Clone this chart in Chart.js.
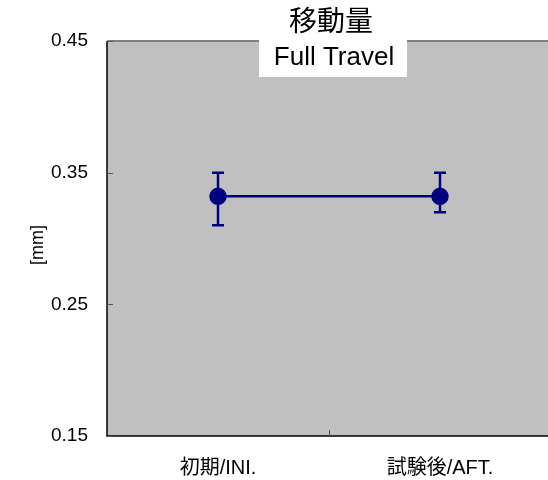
<!DOCTYPE html>
<html>
<head>
<meta charset="utf-8">
<script src="https://cdn.jsdelivr.net/npm/chart.js@4"></script>
<style>
  html, body { margin: 0; padding: 0; background: #fff; overflow: hidden; }
  #wrap { width: 561px; height: 480px; }
</style>
</head>
<body>
<div id="wrap"><canvas id="chart"></canvas></div>
<script>
// Data
const categories = ['初期/INI.', '試験後/AFT.'];
const meanValues = [0.332, 0.332];
const upperValues = [0.35, 0.35];
const lowerValues = [0.31, 0.32];
const yTicks = [0.15, 0.25, 0.35, 0.45];

const FONT = '"Liberation Sans", "Noto Sans CJK JP", sans-serif';
const NAVY = '#000080';

// plot background, borders, inward ticks, error bars, titles
const decorPlugin = {
  id: 'decor',
  beforeDraw(chart) {
    const { ctx, chartArea: a } = chart;
    ctx.save();
    ctx.fillStyle = '#c0c0c0';
    ctx.fillRect(a.left, a.top, a.right - a.left, a.bottom - a.top);
    ctx.restore();
  },
  afterDatasetsDraw(chart) {
    const { ctx, scales } = chart;
    const y = scales.y, x = scales.x;
    // error bars
    ctx.save();
    ctx.strokeStyle = NAVY;
    ctx.lineWidth = 2.5;
    categories.forEach((c, i) => {
      const px = x.getPixelForValue(i);
      const yt = y.getPixelForValue(upperValues[i]);
      const yb = y.getPixelForValue(lowerValues[i]);
      ctx.beginPath();
      ctx.moveTo(px, yt); ctx.lineTo(px, yb);
      ctx.moveTo(px - 6, yt); ctx.lineTo(px + 6, yt);
      ctx.moveTo(px - 6, yb); ctx.lineTo(px + 6, yb);
      ctx.stroke();
    });
    ctx.restore();
  },
  afterDraw(chart) {
    const { ctx, chartArea: a, scales } = chart;
    const y = scales.y, x = scales.x;
    ctx.save();
    // top border (gray)
    ctx.strokeStyle = '#808080';
    ctx.lineWidth = 2;
    ctx.beginPath();
    ctx.moveTo(a.left, a.top);
    ctx.lineTo(a.right, a.top);
    ctx.stroke();
    // left & bottom border
    ctx.strokeStyle = '#000';
    ctx.lineWidth = 1.5;
    ctx.beginPath();
    ctx.moveTo(a.left, a.top);
    ctx.lineTo(a.left, a.bottom);
    ctx.lineTo(a.right, a.bottom);
    ctx.stroke();
    // inward y ticks
    ctx.strokeStyle = '#555';
    ctx.lineWidth = 1;
    yTicks.forEach(v => {
      const py = Math.round(y.getPixelForValue(v)) + 0.5;
      ctx.beginPath();
      ctx.moveTo(a.left, py);
      ctx.lineTo(a.left + 6, py);
      ctx.stroke();
    });
    // inward x tick between categories
    const mx = Math.round((x.getPixelForValue(0) + x.getPixelForValue(1)) / 2) + 0.5;
    ctx.beginPath();
    ctx.moveTo(mx, a.bottom);
    ctx.lineTo(mx, a.bottom - 6);
    ctx.stroke();

    ctx.fillStyle = '#000';
    ctx.textAlign = 'center';
    ctx.textBaseline = 'middle';
    // y axis title
    ctx.save();
    ctx.translate(38, 245);
    ctx.rotate(-Math.PI / 2);
    ctx.font = '18px ' + FONT;
    ctx.fillText('[mm]', 0, 0);
    ctx.restore();

    // title
    ctx.font = '28px "Noto Sans CJK JP", sans-serif';
    ctx.fillText('移動量', 331, 20);
    // subtitle box
    ctx.fillStyle = '#fff';
    ctx.fillRect(259, 39, 148, 38);
    ctx.fillStyle = '#000';
    ctx.font = '26px ' + FONT;
    ctx.fillText('Full Travel', 334, 58);
    ctx.restore();
  }
};

new Chart(document.getElementById('chart'), {
  type: 'line',
  data: {
    labels: categories,
    datasets: [{
      data: meanValues,
      borderColor: NAVY,
      backgroundColor: NAVY,
      borderWidth: 2.5,
      pointRadius: 7.5,
      pointHoverRadius: 7.5,
      pointBackgroundColor: NAVY,
      pointBorderColor: NAVY
    }]
  },
  options: {
    responsive: true,
    maintainAspectRatio: false,
    animation: false,
    events: [],
    layout: { padding: { top: 41, right: 0, left: 0, bottom: 0 } },
    plugins: {
      legend: { display: false },
      title: { display: false },
      tooltip: { enabled: false }
    },
    scales: {
      x: {
        type: 'category',
        offset: true,
        grid: { display: false, drawTicks: false },
        border: { display: false },
        ticks: { color: '#000', padding: 20, font: { family: FONT, size: 20 } },
        afterFit: s => { s.height = 44; }
      },
      y: {
        min: 0.15,
        max: 0.45,
        afterBuildTicks: s => { s.ticks = yTicks.map(v => ({ value: v })); },
        grid: { display: false, drawTicks: false },
        border: { display: false },
        ticks: {
          color: '#000',
          padding: 19,
          font: { family: FONT, size: 19 },
          callback: v => v.toFixed(2)
        },
        afterFit: s => { s.width = 107; }
      }
    }
  },
  plugins: [decorPlugin]
});
</script>
</body>
</html>
